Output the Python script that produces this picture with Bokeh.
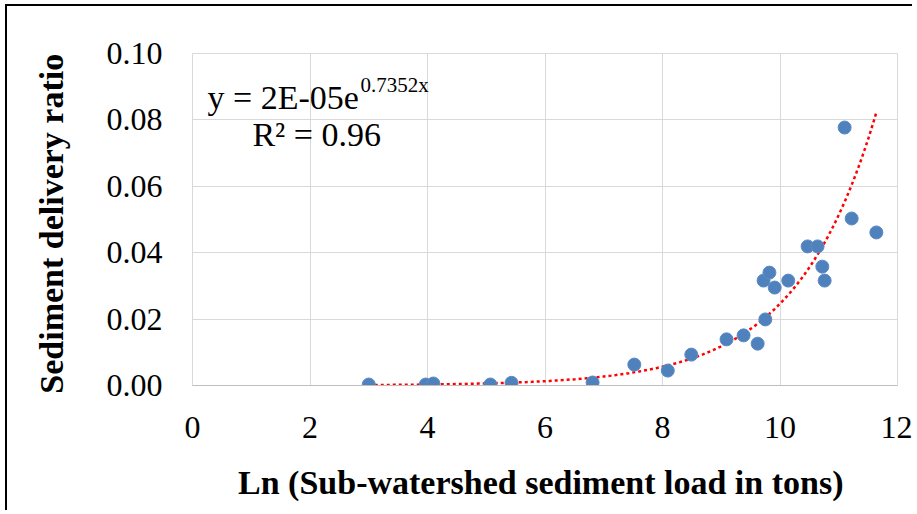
from bokeh.plotting import figure
from bokeh.models import Range1d, FixedTicker, NumeralTickFormatter, Label, ColumnDataSource
from bokeh.embed import file_html
from bokeh.resources import INLINE
import numpy as np

# Data
ln_load = [3.00, 3.97, 4.10, 5.07, 5.43, 6.81, 7.52, 8.09, 8.49, 9.09, 9.38, 9.62,
           9.75, 9.72, 9.82, 9.91, 10.14, 10.47, 10.64, 10.72, 10.76, 11.10, 11.22, 11.64]
sdr = [0.0003, 0.0003, 0.0006, 0.0003, 0.0008, 0.0009, 0.0063, 0.0045, 0.0093, 0.0139,
       0.0151, 0.0126, 0.0199, 0.0316, 0.0340, 0.0295, 0.0316, 0.0419, 0.0419, 0.0358,
       0.0316, 0.0777, 0.0503, 0.0461]
x_ticks = [0, 2, 4, 6, 8, 10, 12]
y_ticks = [0.00, 0.02, 0.04, 0.06, 0.08, 0.10]

# Exponential trendline parameters (y = a * e^(b x))
trend_a = 1.58e-5
trend_b = 0.7352
eq_text = "y = 2E-05e"
eq_sup = "0.7352x"
r2_text = "R² = 0.96"

FONT = "Liberation Serif"

p = figure(width=907, height=506, output_backend="svg", toolbar_location=None,
           x_range=Range1d(0, 12), y_range=Range1d(0, 0.10),
           min_border_left=185, min_border_right=17, min_border_top=47, min_border_bottom=127,
           styles={"border-left": "2px solid black", "border-top": "2px solid black",
                   "margin-left": "5px", "margin-top": "4px"})
p.background_fill_color = "white"
p.border_fill_color = "white"
p.outline_line_color = "#d9d9d9"
p.outline_line_width = 1

# grid
p.xgrid.ticker = FixedTicker(ticks=x_ticks)
p.ygrid.ticker = FixedTicker(ticks=y_ticks)
p.xgrid.grid_line_color = "#d9d9d9"
p.ygrid.grid_line_color = "#d9d9d9"

# axes
p.xaxis.ticker = FixedTicker(ticks=x_ticks)
p.yaxis.ticker = FixedTicker(ticks=y_ticks)
p.yaxis.formatter = NumeralTickFormatter(format="0.00")
for ax in (p.xaxis[0], p.yaxis[0]):
    ax.major_tick_in = 0
    ax.major_tick_out = 0
    ax.minor_tick_in = 0
    ax.minor_tick_out = 0
    ax.major_label_text_font = FONT
    ax.major_label_text_font_size = "32px"
    ax.major_label_text_color = "black"
    ax.axis_label_text_font = FONT
    ax.axis_label_text_font_size = "34px"
    ax.axis_label_text_font_style = "bold"
    ax.axis_label_text_color = "black"
p.xaxis.axis_line_color = "#bfbfbf"
p.yaxis.axis_line_color = None
p.xaxis.axis_label = "Ln (Sub-watershed  sediment load in tons)"
p.yaxis.axis_label = "Sediment  delivery ratio"
p.xaxis.major_label_standoff = 31
p.xaxis.axis_label_standoff = 23
p.yaxis.major_label_standoff = 30
p.yaxis.axis_label_standoff = 34

# trendline
tx = np.linspace(min(ln_load), max(ln_load), 200)
ty = trend_a * np.exp(trend_b * tx)
p.line(tx, ty, line_color="#ff0000", line_width=2.5, line_dash="3 3")

# points
src = ColumnDataSource(dict(x=ln_load, y=sdr))
p.scatter("x", "y", source=src, size=13, fill_color="#4f81bd", line_color="#5b8cc6",
          line_width=1)

# equation labels
p.add_layout(Label(x=0.255, y=0.0867, text=eq_text, text_font=FONT, text_font_size="34px",
                   text_baseline="alphabetic", text_color="black"))
p.add_layout(Label(x=2.86, y=0.0904, text=eq_sup, text_font=FONT, text_font_size="21px",
                   text_baseline="alphabetic", text_color="black"))
p.add_layout(Label(x=1.02, y=0.0756, text=r2_text, text_font=FONT, text_font_size="34px",
                   text_baseline="alphabetic", text_color="black"))

open("out.html", "w").write(file_html(p, INLINE))
